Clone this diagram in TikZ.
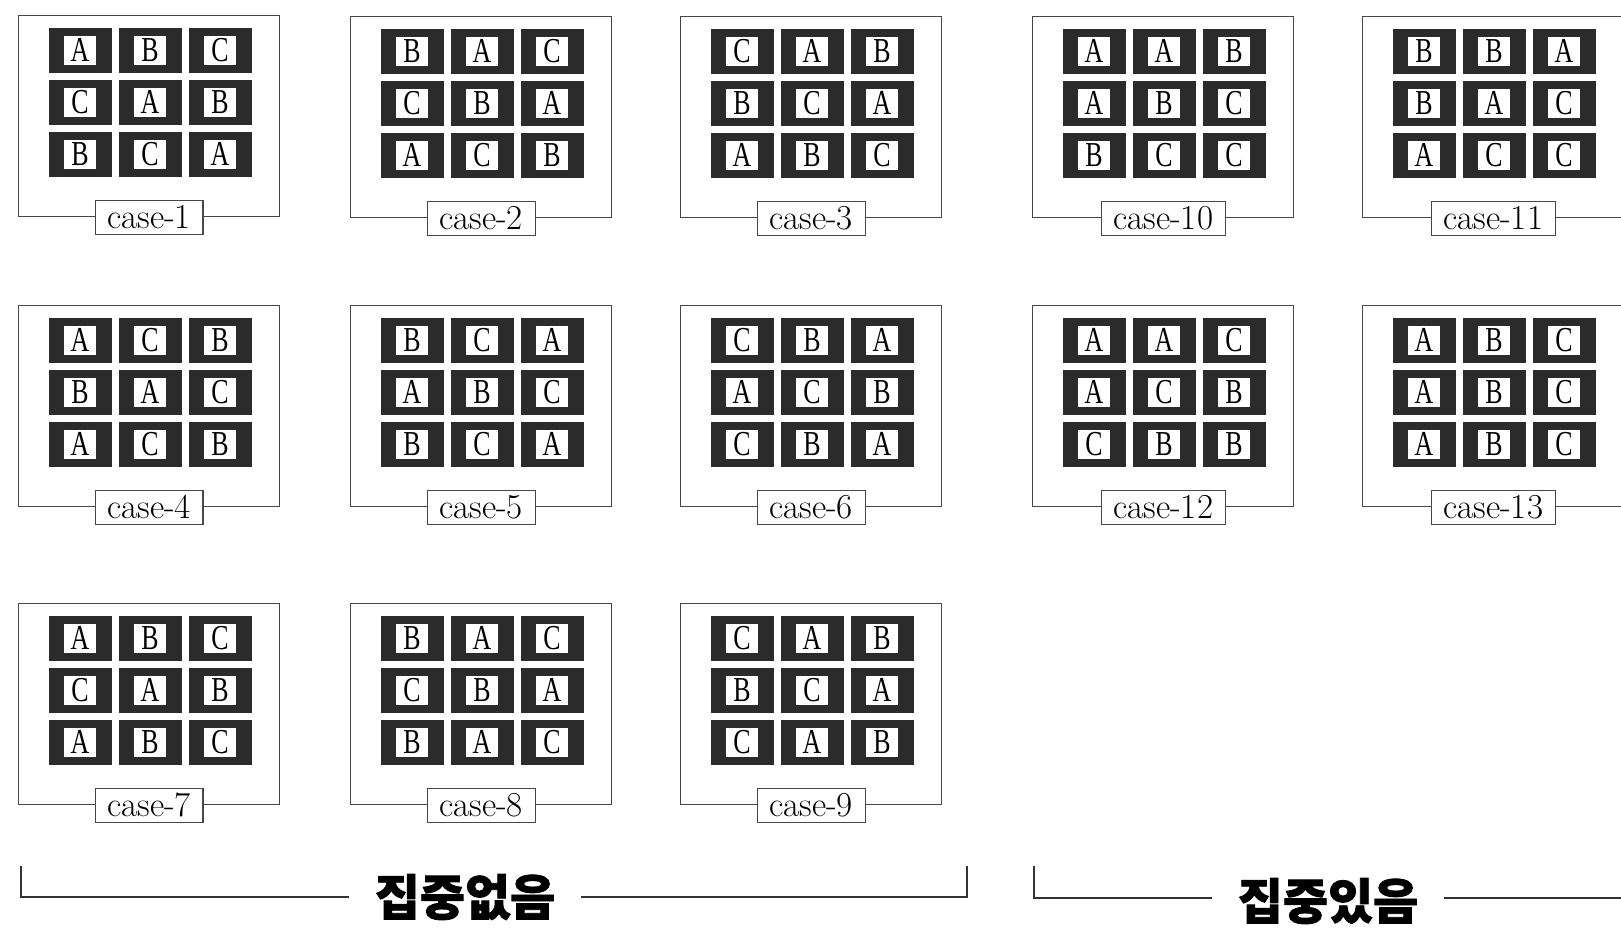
\documentclass[tikz,border=0pt]{standalone}
\usepackage{fontspec}
\usepackage{tikz}
\usetikzlibrary{positioning, calc}
\newfontfamily\krfont{Noto Sans CJK KR}[BoldFeatures={FakeBold=1.5}]
\newfontfamily\tilefont{Liberation Serif}[FakeStretch=0.74]
\definecolor{tiledark}{gray}{0.17}
\definecolor{framegray}{gray}{0.28}

% one case: name, left, top, number, rows of letters
\newcommand{\casepanel}[5]{%
  \node[panel] (#1) at (#2,#3) {};
  \foreach \rw [count=\ri] in {#5} {
    \foreach \ch [count=\ci] in \rw {
      \node[tile] (#1-\ri\ci) at ($(#1.north west)+(70*\ci-8,52*\ri-17)$) {\ch};
    }
  }
  \node[caselab] (#1-lab) at (#1.south) {case-#4};
}

\begin{document}
\begin{tikzpicture}[x=1pt, y=-1pt,
    panel/.style={draw=framegray, line width=1.4pt, anchor=north west,
                  minimum width=261pt, minimum height=201pt, inner sep=0pt},
    tile/.style={fill=tiledark, minimum width=63pt, minimum height=45pt, inner sep=0pt,
                 font=\tilefont\fontsize{35}{35}\selectfont,
                 path picture={\fill[white]
                   ([xshift=-16pt,yshift=-14.5pt]path picture bounding box.center) rectangle
                   ([xshift=16pt,yshift=14.5pt]path picture bounding box.center);}},
    caselab/.style={draw=framegray, line width=1.1pt, fill=white, minimum height=34pt,
                    inner xsep=12pt, inner ysep=4pt, font=\fontsize{35}{35}\selectfont},
    grouplab/.style={font=\krfont\bfseries\fontsize{49}{49}\selectfont, inner xsep=26pt, inner ysep=0pt},
    bracket/.style={draw=black!80, line width=1.6pt}]

    \useasboundingbox (0,0) rectangle (1621,927);

    % ============ WITHOUT FOCUS: cases 1-9 ============
    \casepanel{c1}{18}{15}{1}{{A,B,C},{C,A,B},{B,C,A}}
    \casepanel{c2}{350}{16}{2}{{B,A,C},{C,B,A},{A,C,B}}
    \casepanel{c3}{680}{16}{3}{{C,A,B},{B,C,A},{A,B,C}}
    \casepanel{c4}{18}{305}{4}{{A,C,B},{B,A,C},{A,C,B}}
    \casepanel{c5}{350}{305}{5}{{B,C,A},{A,B,C},{B,C,A}}
    \casepanel{c6}{680}{305}{6}{{C,B,A},{A,C,B},{C,B,A}}
    \casepanel{c7}{18}{603}{7}{{A,B,C},{C,A,B},{A,B,C}}
    \casepanel{c8}{350}{603}{8}{{B,A,C},{C,B,A},{B,A,C}}
    \casepanel{c9}{680}{603}{9}{{C,A,B},{B,C,A},{C,A,B}}

    % ============ WITH FOCUS: cases 10-13 ============
    \casepanel{c10}{1032}{16}{10}{{A,A,B},{A,B,C},{B,C,C}}
    \casepanel{c11}{1362}{16}{11}{{B,B,A},{B,A,C},{A,C,C}}
    \casepanel{c12}{1032}{305}{12}{{A,A,C},{A,C,B},{C,B,B}}
    \casepanel{c13}{1362}{305}{13}{{A,B,C},{A,B,C},{A,B,C}}

    % group brackets
    \node[grouplab] (nofocus) at (465,897) {집중없음};
    \node[grouplab] (focus) at (1328,901) {집중있음};

    \coordinate (nfL) at (21,866);
    \coordinate (nfR) at (967,866);
    \coordinate (fL) at (1034,866);
    \coordinate (fE) at (1621,898);

    \draw[bracket] (nfL) |- (nofocus.west);
    \draw[bracket] (nofocus.east) -| (nfR);
    \draw[bracket] (fL) |- (focus.west |- fE);
    \draw[bracket] (focus.east |- fE) -- (fE);

\end{tikzpicture}
\end{document}
